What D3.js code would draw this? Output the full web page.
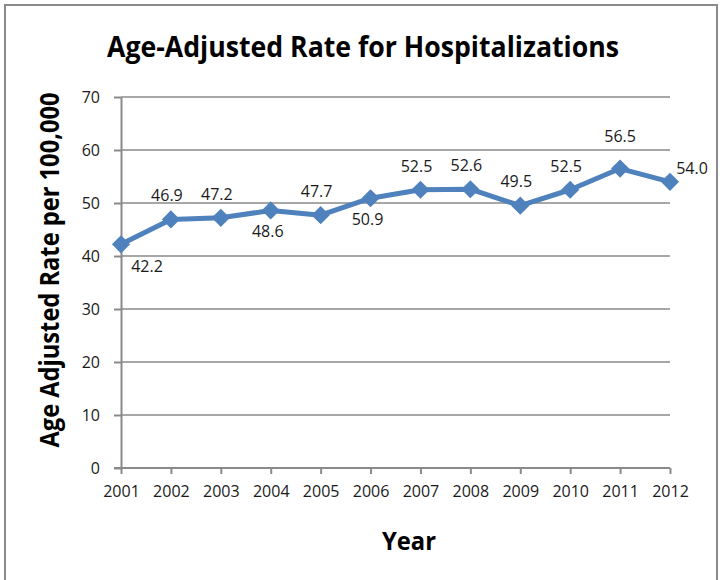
<!DOCTYPE html>
<html>
<head>
<meta charset="utf-8">
<script src="https://cdn.jsdelivr.net/npm/d3@7"></script>
<style>
  body { margin: 0; background: #fff; }
  text { font-family: "Open Sans", "Liberation Sans", Arial, sans-serif; }
</style>
</head>
<body>
<div id="chart"></div>
<script>
const years = ["2001", "2002", "2003", "2004", "2005", "2006", "2007", "2008", "2009", "2010", "2011", "2012"];
const rates = [42.2, 46.9, 47.2, 48.6, 47.7, 50.9, 52.5, 52.6, 49.5, 52.5, 56.5, 54.0];
const yTicks = [0, 10, 20, 30, 40, 50, 60, 70];

// where each data label sits relative to its marker
const labelPlace = ["belowRight", "above", "above", "below", "above", "below", "above", "above", "above", "above", "high", "right"];
const placeOffset = {
  above: [-4, -24],
  below: [-3, 21],
  belowRight: [26, 22],
  high: [0, -32],
  right: [22, -14]
};

const width = 723;
const height = 580;

const svg = d3.select("#chart")
  .append("svg")
  .attr("width", width)
  .attr("height", height);

// outer frame (bottom edge is cropped off)
svg.append("path")
  .attr("d", "M5,580 L5,5 L717,5 L717,580")
  .attr("fill", "none")
  .attr("stroke", "#8a8a8a")
  .attr("stroke-width", 2);

const x = d3.scalePoint()
  .domain(years)
  .range([121, 670]);

const y = d3.scaleLinear()
  .domain([0, 70])
  .range([468, 97]);

const gridColor = "#8a8a8a";

// gridlines
svg.append("g")
  .selectAll("line")
  .data(yTicks.filter(d => d > 0))
  .enter()
  .append("line")
  .attr("x1", 121)
  .attr("x2", 670)
  .attr("y1", d => y(d))
  .attr("y2", d => y(d))
  .attr("stroke", gridColor)
  .attr("stroke-width", 1.6);

// y axis
const yAxis = svg.append("g")
  .attr("transform", "translate(121,0)")
  .call(d3.axisLeft(y).tickValues(yTicks).tickSize(7).tickPadding(14).tickSizeOuter(0));

// x axis
const xAxis = svg.append("g")
  .attr("transform", `translate(0,${y(0)})`)
  .call(d3.axisBottom(x).tickSize(6).tickPadding(12).tickSizeOuter(0));

[yAxis, xAxis].forEach(g => {
  g.select(".domain").attr("stroke", gridColor).attr("stroke-width", 2);
  g.selectAll(".tick line").attr("stroke", gridColor).attr("stroke-width", 2);
  g.selectAll(".tick text")
    .attr("fill", "#1a1a1a")
    .style("font-size", "16px")
    .style("font-family", "'Open Sans', 'Liberation Sans', Arial, sans-serif");
});
yAxis.selectAll(".tick text").attr("dy", "0.36em");
// x axis line reaches left to the y tick end
xAxis.select(".domain").attr("d", `M114,0H670`);

// series line
const line = d3.line()
  .x((d, i) => x(years[i]))
  .y(d => y(d));

svg.append("path")
  .datum(rates)
  .attr("d", line)
  .attr("fill", "none")
  .attr("stroke", "#4f81bd")
  .attr("stroke-width", 5)
  .attr("stroke-linejoin", "round");

// diamond markers
svg.append("g")
  .selectAll("path")
  .data(rates)
  .enter()
  .append("path")
  .attr("d", d3.symbol(d3.symbolSquare, 165))
  .attr("transform", (d, i) => `translate(${x(years[i])},${y(d)}) rotate(45)`)
  .attr("fill", "#4f81bd");

// data labels
svg.append("g")
  .selectAll("text")
  .data(rates)
  .enter()
  .append("text")
  .attr("x", (d, i) => x(years[i]) + placeOffset[labelPlace[i]][0])
  .attr("y", (d, i) => y(d) + placeOffset[labelPlace[i]][1])
  .attr("dy", "0.36em")
  .attr("text-anchor", "middle")
  .attr("fill", "#1a1a1a")
  .style("font-size", "16px")
  .text(d => d.toFixed(1));

// title
svg.append("text")
  .attr("x", 363)
  .attr("y", 57)
  .attr("text-anchor", "middle")
  .attr("textLength", 512)
  .attr("lengthAdjust", "spacingAndGlyphs")
  .style("font-size", "28px")
  .style("font-weight", "bold")
  .text("Age-Adjusted Rate for Hospitalizations");

// y axis title
svg.append("text")
  .attr("transform", "translate(59,270) rotate(-90)")
  .attr("text-anchor", "middle")
  .attr("textLength", 355)
  .attr("lengthAdjust", "spacingAndGlyphs")
  .style("font-size", "26px")
  .style("font-weight", "bold")
  .text("Age Adjusted Rate per 100,000");

// x axis title
svg.append("text")
  .attr("x", 409)
  .attr("y", 550)
  .attr("text-anchor", "middle")
  .attr("textLength", 54)
  .attr("lengthAdjust", "spacingAndGlyphs")
  .style("font-size", "25px")
  .style("font-weight", "bold")
  .text("Year");
</script>
</body>
</html>
